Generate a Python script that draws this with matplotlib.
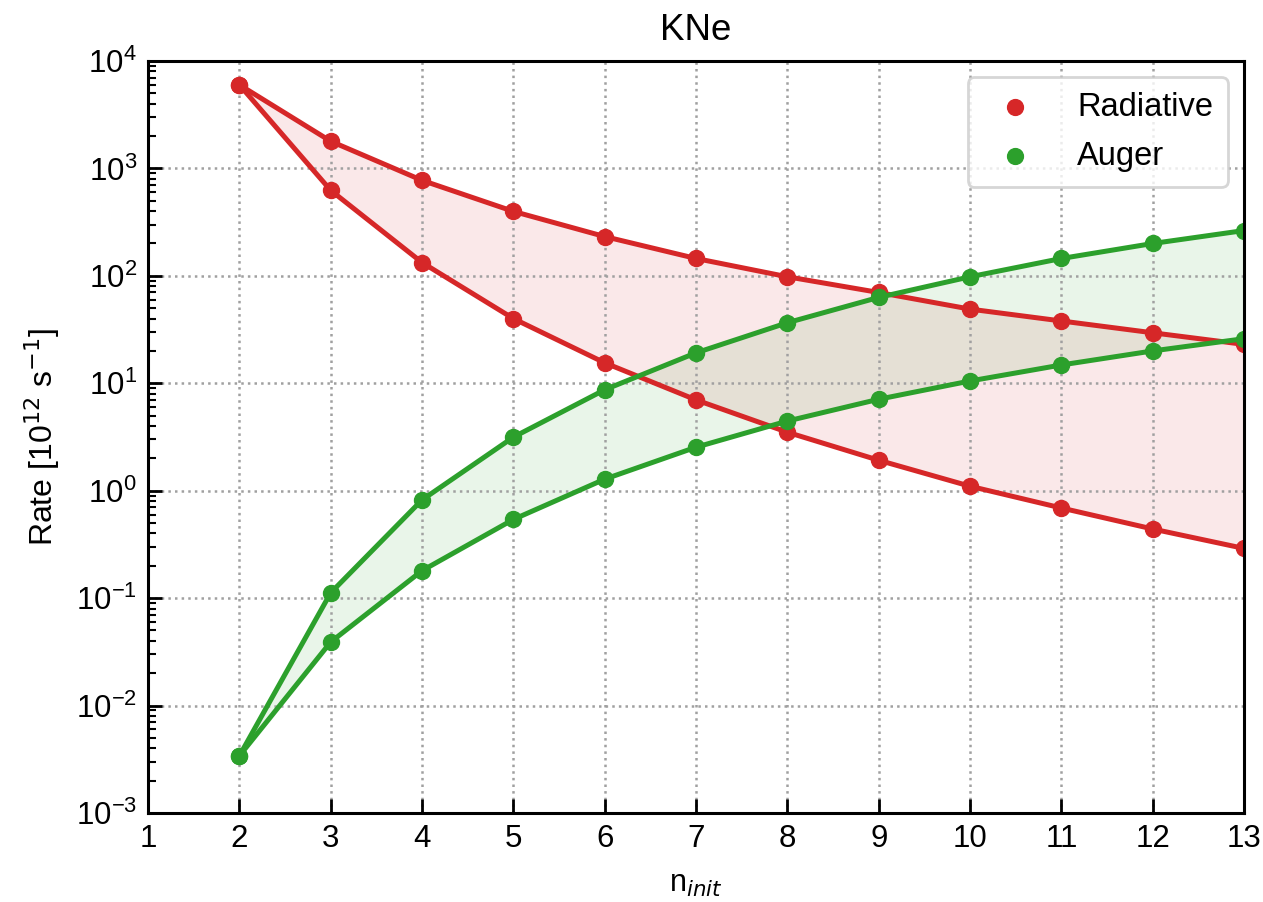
import matplotlib
matplotlib.use("Agg")
import matplotlib.pyplot as plt
import numpy as np
from matplotlib.ticker import LogLocator, NullFormatter

plt.rcParams['font.family'] = ['Liberation Sans', 'DejaVu Sans']
plt.rcParams['mathtext.fontset'] = 'dejavusans'

n_init = [2, 3, 4, 5, 6, 7, 8, 9, 10, 11, 12, 13]

radiative_high = [6000, 1790, 774, 398, 232, 145, 98, 70, 49, 38, 29.5, 23]
radiative_low = [6000, 625, 133, 40, 15.5, 7.0, 3.5, 1.92, 1.1, 0.69, 0.44, 0.29]

auger_high = [0.0034, 0.112, 0.82, 3.15, 8.7, 19.2, 36.6, 63, 98, 145, 200, 264]
auger_low = [0.0034, 0.039, 0.18, 0.54, 1.28, 2.54, 4.45, 7.1, 10.5, 14.8, 20, 26]

red = '#d62728'
green = '#2ca02c'

fig = plt.figure(figsize=(12.63, 9.02), dpi=100)
ax = fig.add_axes([0.1172, 0.0987, 0.8678, 0.8337])

lw = 3.6
ms = 11.5

ax.fill_between(n_init, radiative_low, radiative_high, color=red, alpha=0.1, lw=0)
ax.plot(n_init, radiative_high, '-o', color=red, lw=lw, ms=ms)
ax.plot(n_init, radiative_low, '-o', color=red, lw=lw, ms=ms)

ax.fill_between(n_init, auger_low, auger_high, color=green, alpha=0.1, lw=0)
ax.plot(n_init, auger_high, '-o', color=green, lw=lw, ms=ms)
ax.plot(n_init, auger_low, '-o', color=green, lw=lw, ms=ms)

# legend entries as single dots
ax.scatter([], [], color=red, s=130, label='Radiative')
ax.scatter([], [], color=green, s=130, label='Auger')

ax.set_yscale('log')
ax.set_xlim(1, 13)
ax.set_ylim(1e-3, 1e4)
ax.set_xticks(range(1, 14))
ax.yaxis.set_major_locator(LogLocator(base=10, numticks=20))
ax.yaxis.set_minor_locator(LogLocator(base=10, subs=np.arange(2, 10), numticks=20))
ax.yaxis.set_minor_formatter(NullFormatter())

ax.tick_params(axis='both', which='major', direction='in', length=10, width=2,
               labelsize=22.5, pad=8, top=False, right=False)
ax.tick_params(axis='y', which='minor', direction='in', length=6, width=1.5,
               right=False)

for s in ax.spines.values():
    s.set_linewidth(2.2)

ax.grid(True, which='major', linestyle=':', color='#a0a0a0', lw=1.8)

ax.set_title('KNe', fontsize=26.5, pad=15)
ax.set_xlabel('n$_{init}$', fontsize=22, labelpad=11)
ax.set_ylabel('Rate [10$^{12}$ s$^{-1}$]', fontsize=23, labelpad=10)

leg = ax.legend(loc='upper right', fontsize=23.5, frameon=True, fancybox=True,
                framealpha=0.8, edgecolor='#cccccc', borderpad=0.45,
                handletextpad=0.9, labelspacing=0.55, markerscale=1.0)
leg.get_frame().set_linewidth(2)

fig.savefig('out.png', dpi=100)
